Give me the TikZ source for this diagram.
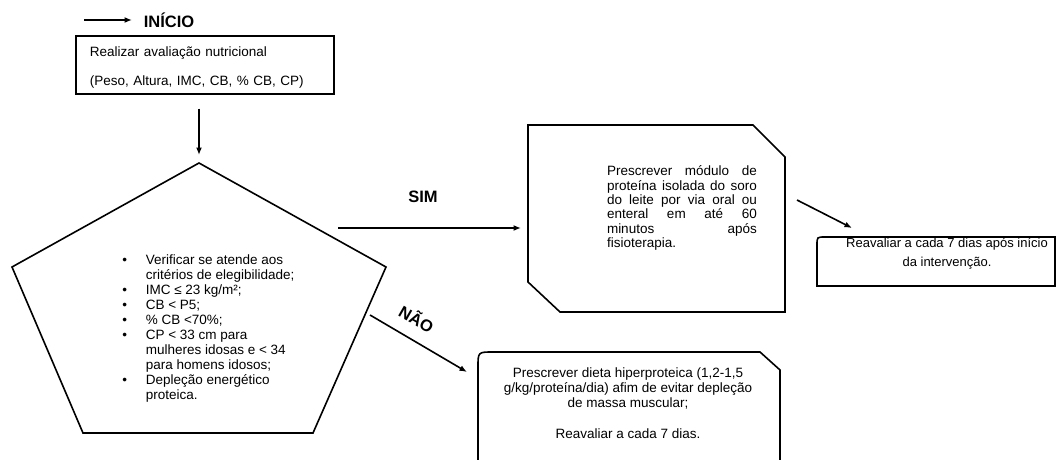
\documentclass[tikz,border=0pt]{standalone}
\usepackage{fontspec}
\setmainfont{Liberation Sans}
\usetikzlibrary{arrows.meta}

\begin{document}
\begin{tikzpicture}[x=1pt,y=-1pt,line width=1.6pt,
    arr/.style={-{Latex[length=7.5pt,width=6pt]}},
    txt/.style={inner sep=0pt,font=\fontsize{13.5}{15}\selectfont},
    lbl/.style={inner sep=0pt,font=\fontsize{16.5}{18}\selectfont\bfseries}]
  \useasboundingbox (0,0) rectangle (1061,460);
  % start
  \node[lbl,anchor=west] (inicio) at (143,20) {INÍCIO};
  \coordinate (start) at (84,20);
  \draw[arr,shorten >=11pt] (start) -- (inicio.west);
  \node[txt,draw,anchor=north west,minimum height=58pt,text width=230pt,inner xsep=14pt,align=left] (aval) at (75,35)
    {\rule{0pt}{16pt}Realizar avaliação nutricional\\[14pt](Peso, Altura, IMC, CB, \% CB, CP)};
  % criteria (pentagon)
  \coordinate (ptop) at (199,163);
  \coordinate (pright) at (386,267);
  \coordinate (pbr) at (313,433);
  \coordinate (pbl) at (83,433);
  \coordinate (pleft) at (12,267);
  \draw (ptop) -- (pright) -- (pbr) -- (pbl) -- (pleft) -- cycle;
  \draw[arr,shorten <=14pt,shorten >=8pt] (aval.south -| ptop) -- (ptop);
  \node[txt,anchor=west] (crit) at (121.5,329) {\begin{tabular}{@{}p{23.5pt}@{}l@{}}
    \textbullet & Verificar se atende aos\\
                & critérios de elegibilidade;\\
    \textbullet & IMC ≤ 23 kg/m²;\\
    \textbullet & CB < P5;\\
    \textbullet & \% CB <70\%;\\
    \textbullet & CP < 33 cm para\\
                & mulheres idosas e < 34\\
                & para homens idosos;\\
    \textbullet & Depleção energético\\
                & proteica.
  \end{tabular}};
  % yes branch
  \node[lbl] (sim) at (423,197) {SIM};
  \coordinate (simstart) at (338,228);
  \coordinate (simend) at (528,228);
  \draw[arr,shorten >=7pt] (simstart) -- (simend);
  \draw (528,125) -- (753,125) -- (785,157) -- (785,312) -- (560,312) -- (528,282) -- cycle;
  \node[txt,text width=150pt,align=justify,font=\fontsize{13.5}{14.3}\selectfont] (proteina) at (682,208)
    {Prescrever módulo de\linebreak proteína isolada do soro\linebreak do leite por via oral ou\linebreak
     enteral em até 60\linebreak minutos após\linebreak fisioterapia.};
  \coordinate (r1) at (797,200);
  \coordinate (r2) at (852,228);
  \draw[arr] (r1) -- (r2);
  \draw (817,286) -- (817,245) .. controls (817,237) .. (825,237) -- (1055,237) -- (1055,286) -- cycle;
  \node[txt,align=center,font=\fontsize{13}{19}\selectfont] (reav) at (947,254)
    {Reavaliar a cada 7 dias após início\\da intervenção.};
  % no branch
  \node[lbl,rotate=-30] (nao) at (417,318) {NÃO};
  \coordinate (n1) at (370,315);
  \coordinate (n2) at (467,372);
  \draw[arr] (n1) -- (n2);
  \draw (478,460) -- (478,367) .. controls (478,352) .. (493,352) -- (760,352) -- (780,370) -- (780,460);
  \node[txt,align=center] (dieta) at (628,403)
    {Prescrever dieta hiperproteica (1,2-1,5\\g/kg/proteína/dia) afim de evitar depleção\\de massa muscular;\\[16pt]Reavaliar a cada 7 dias.};
\end{tikzpicture}
\end{document}
